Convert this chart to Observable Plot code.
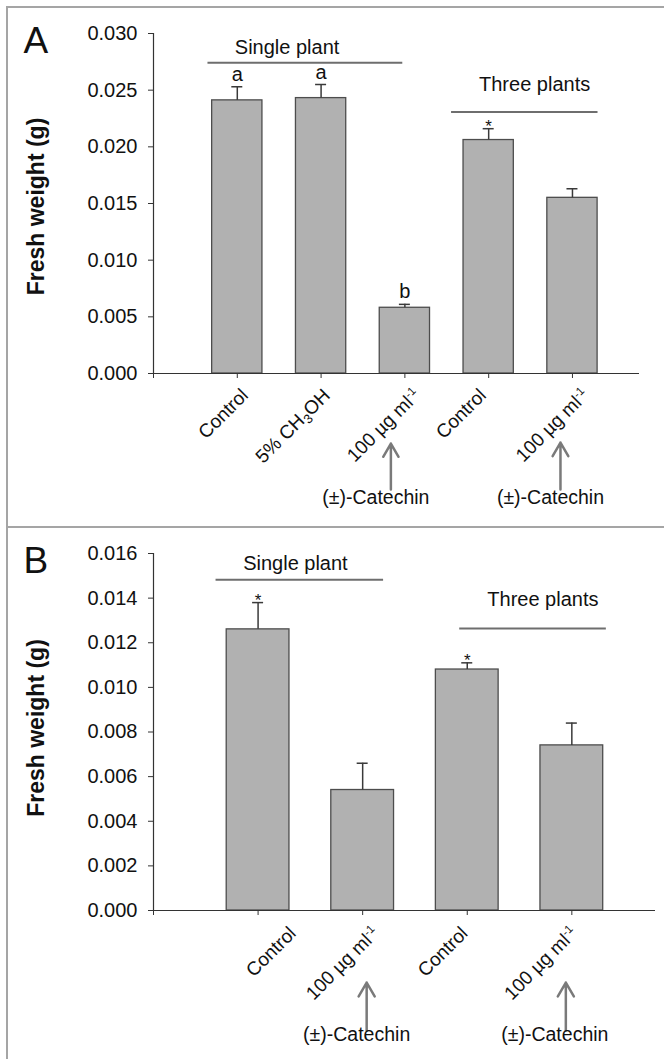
<!DOCTYPE html>
<html><head><meta charset="utf-8">
<script src="https://cdn.jsdelivr.net/npm/d3@7"></script>
<script src="https://cdn.jsdelivr.net/npm/@observablehq/plot@0.6"></script>
<style>
body{margin:0;background:#fff;font-family:"Liberation Sans",Arial,sans-serif;}
#wrap{position:relative;width:664px;height:1059px;overflow:hidden;background:#fff;}
#wrap svg{display:block;}
.frame{position:absolute;left:6px;top:6px;width:720px;height:1120px;border-left:2px solid #a5a5a5;border-top:2px solid #a5a5a5;pointer-events:none;}
.divider{position:absolute;left:6px;top:526px;width:720px;height:0;border-top:2px solid #a5a5a5;pointer-events:none;}
</style></head>
<body><div id="wrap"><div id="panelA"></div><div id="panelB"></div><div class="frame"></div><div class="divider"></div></div>
<script>
// ---------- data ----------
const categoriesA = ["Control", "5% CH₃OH", "100 µg ml⁻¹", "Control", "100 µg ml⁻¹"];
const meansA      = [0.0241, 0.0243, 0.0058, 0.0206, 0.0155];
const errorsA     = [0.0012, 0.0012, 0.0003, 0.0010, 0.0008];
const lettersA    = ["a", "a", "b", "*", ""];
const yTicksA     = [0.000, 0.005, 0.010, 0.015, 0.020, 0.025, 0.030];

const categoriesB = ["Control", "100 µg ml⁻¹", "Control", "100 µg ml⁻¹"];
const meansB      = [0.0126, 0.0054, 0.0108, 0.0074];
const errorsB     = [0.0012, 0.0012, 0.0003, 0.0010];
const lettersB    = ["*", "", "*", ""];
const yTicksB     = [0.000, 0.002, 0.004, 0.006, 0.008, 0.010, 0.012, 0.014, 0.016];

const groupLabels = ["Single plant", "Three plants"];
const catechinLabel = "(±)-Catechin";
const yTitle = "Fresh weight (g)";

// ---------- layout (positions in data units / pixel offsets) ----------
const layoutA = {
  id: "panelA", letter: "A", height: 527, xMax: 5.8, yMax: 0.030,
  margin: {top: 33, right: 25, bottom: 154, left: 153},
  groups: [{x1: 0.65, x2: 2.975, y: 0.02743, tx: 1.594, ty: 0.02823},
           {x1: 3.557, x2: 5.305, y: 0.02307, tx: 4.548, ty: 0.02492}],
  labelDx: [12, 10, 16.5, -1.5, 17.5], labelDy: 23,
  catechin: [{pos: 3, tdx: -29, tdy: 130, adx: -14, tip: 70, tail: 116},
             {pos: 5, tdx: -22, tdy: 130, adx: -12, tip: 69, tail: 116}],
  titleDy: 3
};
const layoutB = {
  id: "panelB", letter: "B", height: 532, xMax: 4.8, yMax: 0.016,
  margin: {top: 26, right: 9, bottom: 149, left: 153},
  groups: [{x1: 0.598, x2: 2.2, y: 0.01482, tx: 1.357, ty: 0.01526},
           {x1: 2.928, x2: 4.33, y: 0.01264, tx: 3.723, ty: 0.01366}],
  labelDx: [39, 17.5, 1.6, 6.6], labelDy: 24,
  catechin: [{pos: 2, tdx: -6, tdy: 130, adx: 4, tip: 72, tail: 120},
             {pos: 4, tdx: -17, tdy: 130, adx: -6, tip: 72, tail: 120}],
  titleDy: -4
};

const W = 664;
const FONT = "'Liberation Sans', Arial, Helvetica, sans-serif";

function richify(svg) {
  svg.querySelectorAll("text").forEach(t => {
    if (t.querySelector("tspan")) return;
    const s = t.textContent;
    if (s.includes("₃")) {
      const [a, b] = s.split("₃");
      t.textContent = a;
      const sub = document.createElementNS("http://www.w3.org/2000/svg", "tspan");
      sub.setAttribute("font-size", "13"); sub.setAttribute("dy", "4"); sub.textContent = "3";
      const rest = document.createElementNS("http://www.w3.org/2000/svg", "tspan");
      rest.setAttribute("dy", "-4"); rest.textContent = b;
      t.appendChild(sub); t.appendChild(rest);
    } else if (s.includes("⁻¹")) {
      const a = s.replace("⁻¹", "");
      t.textContent = a;
      const sup = document.createElementNS("http://www.w3.org/2000/svg", "tspan");
      sup.setAttribute("font-size", "11.5"); sup.setAttribute("dy", "-7"); sup.textContent = "-1";
      t.appendChild(sup);
    }
  });
}

function panel(L, cats, means, errs, letters, yTicks) {
  const rows = cats.map((c, i) => ({pos: i + 1, cat: c, mean: means[i], err: errs[i], mark: letters[i]}));
  const pxPerUnit = (W - L.margin.left - L.margin.right) / L.xMax;
  const vPerPx = L.yMax / (L.height - L.margin.top - L.margin.bottom);
  const half = 0.3, cap = 5.5 / pxPerUnit;
  const marks = [
    Plot.rect(rows, {x1: d => d.pos - half, x2: d => d.pos + half, y1: d => 0, y2: "mean",
      fill: "#b1b1b1", stroke: "#4d4d4d", strokeWidth: 1.3}),
    Plot.ruleX(rows, {x: "pos", y1: "mean", y2: d => d.mean + d.err, stroke: "#3a3a3a", strokeWidth: 1.5}),
    Plot.ruleY(rows, {y: d => d.mean + d.err, x1: d => d.pos - cap, x2: d => d.pos + cap, stroke: "#3a3a3a", strokeWidth: 1.5}),
    Plot.text(rows.filter(d => d.mark && d.mark !== "*"), {x: "pos", y: d => d.mean + d.err, text: "mark",
      dy: -6, lineAnchor: "bottom", fontSize: 20, fill: "#111"}),
    Plot.text(rows.filter(d => d.mark === "*"), {x: "pos", y: d => d.mean + d.err, text: "mark",
      dy: 3, lineAnchor: "bottom", fontSize: 17, fill: "#111"}),
    Plot.ruleX([0], {y1: 0, y2: L.yMax, stroke: "#333", strokeWidth: 1.2}),
    Plot.ruleY([0], {x1: 0, x2: L.xMax, stroke: "#333", strokeWidth: 1.2}),
    Plot.axisY({ticks: yTicks, tickFormat: d3.format(".3f"), tickSize: 5, tickPadding: 11,
      fontSize: 20, label: null, stroke: "#333", fill: "#111"}),
    Plot.axisX({ticks: d3.range(0, cats.length + 1), tickFormat: () => "", tickSize: 5, label: null, stroke: "#333"}),
    // group annotations
    Plot.ruleY(L.groups, {y: "y", x1: "x1", x2: "x2", stroke: "#6e6e6e", strokeWidth: 2}),
    Plot.text(L.groups, {x: "tx", y: "ty", text: (d, i) => groupLabels[i], lineAnchor: "bottom", fontSize: 20, fill: "#111"}),
    // panel letter & y title
    Plot.text([L.letter], {text: d => d, frameAnchor: "top-left", dx: -130, dy: 19, textAnchor: "start",
      lineAnchor: "bottom", fontSize: 37, fill: "#111"}),
    Plot.text([yTitle], {text: d => d, frameAnchor: "left", rotate: -90, dx: -117, dy: L.titleDy,
      textAnchor: "middle", lineAnchor: "middle", fontSize: 23, fontWeight: "bold", fill: "#111"})
  ];
  // rotated category labels
  rows.forEach((r, i) => {
    marks.push(Plot.text([r], {x: "pos", y: d => 0, text: "cat", rotate: -45, textAnchor: "end",
      lineAnchor: "bottom", dx: L.labelDx[i], dy: L.labelDy, fontSize: 19, fill: "#111"}));
  });
  // catechin arrows & labels
  L.catechin.forEach(c => {
    marks.push(Plot.arrow([c], {x1: "pos", x2: "pos", y1: d => -d.tail * vPerPx, y2: d => -d.tip * vPerPx,
      dx: c.adx, stroke: "#7a7a7a", strokeWidth: 2.5, headLength: 15, headAngle: 60}));
    marks.push(Plot.text([c], {x: "pos", y: d => 0, text: d => catechinLabel, dx: c.tdx, dy: c.tdy,
      lineAnchor: "bottom", fontSize: 19.5, fill: "#111"}));
  });
  const svg = Plot.plot({
    width: W, height: L.height,
    marginTop: L.margin.top, marginRight: L.margin.right, marginBottom: L.margin.bottom, marginLeft: L.margin.left,
    x: {type: "linear", domain: [0, L.xMax]},
    y: {type: "linear", domain: [0, L.yMax]},
    style: {fontFamily: FONT, background: "transparent", overflow: "visible", color: "#111"},
    marks
  });
  richify(svg);
  document.getElementById(L.id).appendChild(svg);
}

panel(layoutA, categoriesA, meansA, errorsA, lettersA, yTicksA);
panel(layoutB, categoriesB, meansB, errorsB, lettersB, yTicksB);
</script>
</body></html>
